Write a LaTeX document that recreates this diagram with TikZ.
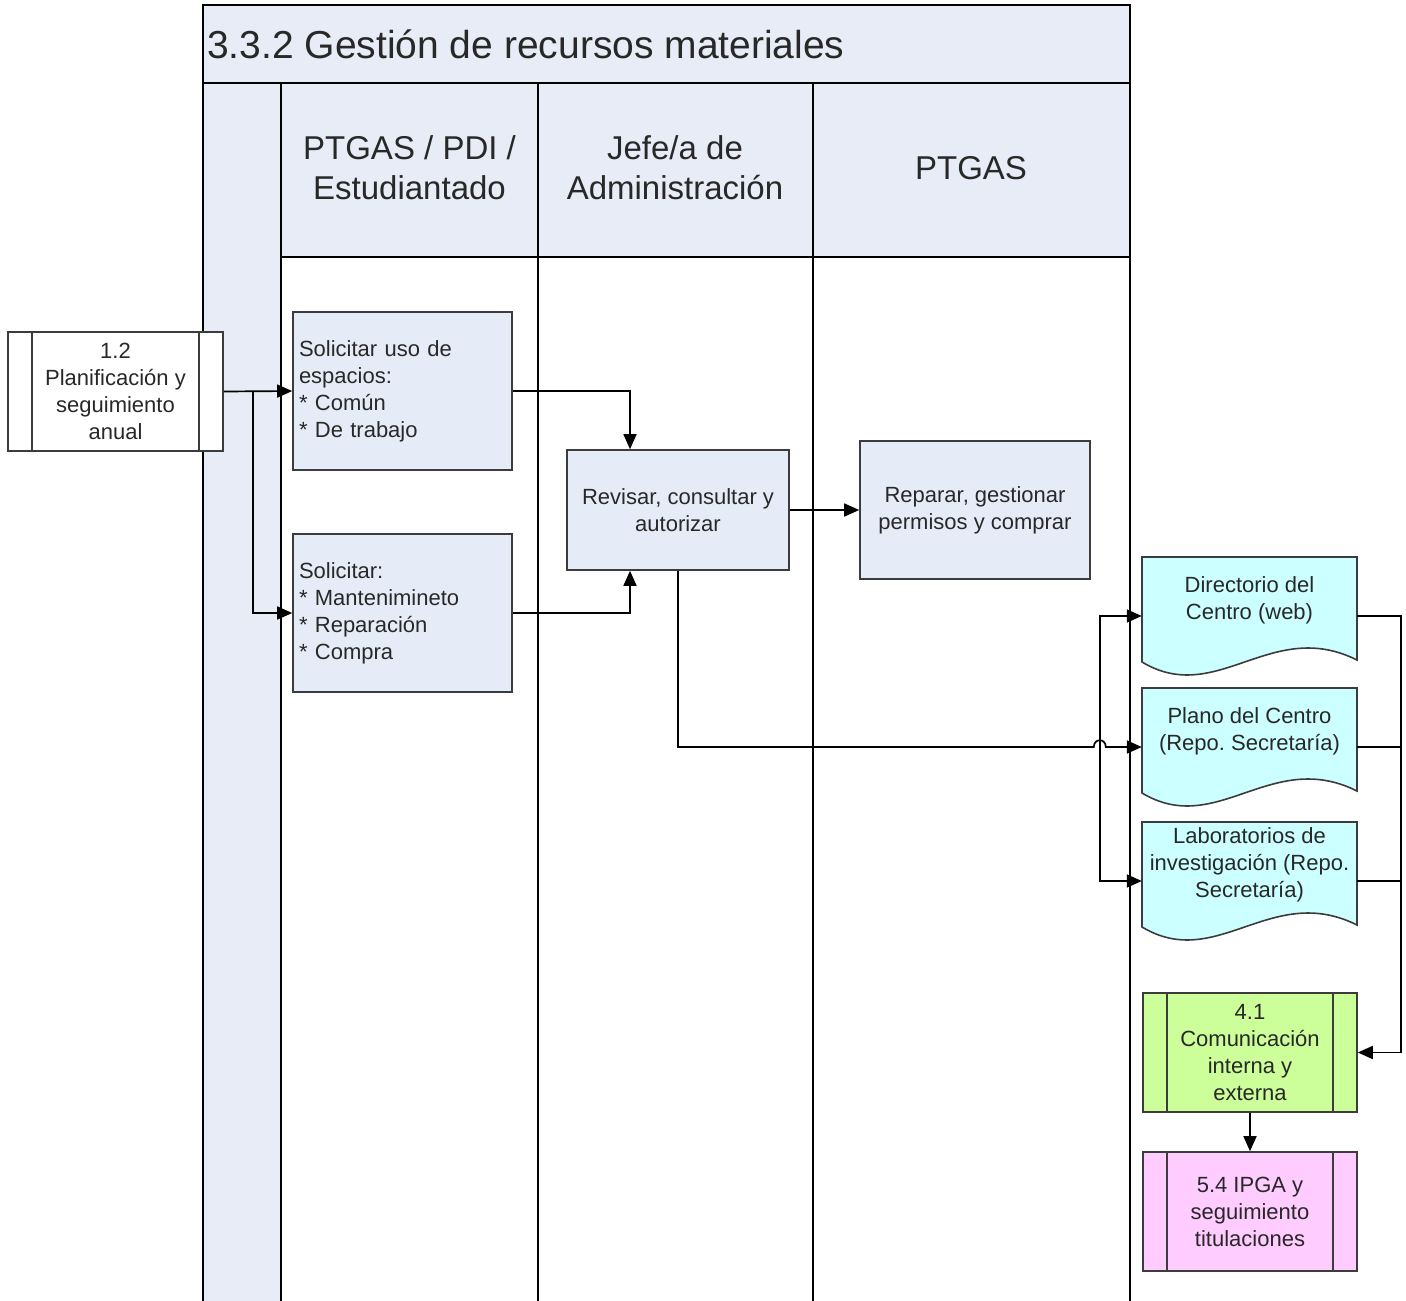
\documentclass[tikz,border=0pt]{standalone}
\usepackage{fontspec}
\setmainfont{Liberation Sans}
\usetikzlibrary{arrows.meta,calc,backgrounds}
\definecolor{lanefill}{RGB}{231,236,246}
\definecolor{boxfill}{RGB}{230,236,247}
\definecolor{docfill}{RGB}{204,255,255}
\definecolor{grnfill}{RGB}{204,255,153}
\definecolor{pnkfill}{RGB}{255,204,255}
\definecolor{edge}{RGB}{60,60,60}
\definecolor{txt}{RGB}{40,40,40}
\frenchspacing
\newcommand\docshape[1]{%
  \path[docsh] ($(#1.center)+(-107.5,-43)$) -- ($(#1.center)+(107.5,-43)$) -- ($(#1.center)+(107.5,60)$)
    .. controls ($(#1.center)+(21.5,17)$) and ($(#1.center)+(-32.5,107)$) .. ($(#1.center)+(-107.5,62)$) -- cycle;}
\begin{document}
\begin{tikzpicture}[x=1pt,y=-1pt,
  lane/.style={line width=1.8pt, draw=black},
  boxtext/.style={font=\fontsize{22}{27}\selectfont, text=txt},
  procbox/.style={boxtext, draw=edge, line width=1.6pt, fill=boxfill, align=center, inner sep=0pt},
  leftbox/.style={procbox, align=left, text width=207pt, inner xsep=6pt, minimum width=219pt, minimum height=158pt},
  predef/.style={procbox, minimum width=214pt, minimum height=119pt,
    path picture={\draw[draw=edge,line width=1.6pt]
      ($(path picture bounding box.north west)+(24,0)$) -- ($(path picture bounding box.south west)+(24,0)$)
      ($(path picture bounding box.north east)+(-24,0)$) -- ($(path picture bounding box.south east)+(-24,0)$);}},
  doctext/.style={boxtext, align=center, inner sep=0pt, minimum width=215pt},
  docsh/.style={draw=edge, line width=1.6pt, fill=docfill},
  hdr/.style={font=\fontsize{33}{40}\selectfont, text=txt, align=center, inner sep=0pt},
  conn/.style={line width=1.7pt, draw=black},
  arr/.style={conn, -{Triangle[length=15pt,width=13pt]}},
]
\useasboundingbox (0,0) rectangle (1406,1301);

% pool and lanes
\fill[lanefill] (203,5) rectangle (1130,257);
\fill[lanefill] (203,257) rectangle (281,1310);
\draw[lane] (203,1310) -- (203,5) -- (1130,5) -- (1130,1310);
\draw[lane] (203,83) -- (1130,83);
\draw[lane] (281,257) -- (1130,257);
\draw[lane] (281,83) -- (281,1310);
\draw[lane] (538,83) -- (538,1310);
\draw[lane] (813,83) -- (813,1310);

\node[anchor=west, font=\fontsize{39}{47}\selectfont, text=txt, inner sep=0pt] (title) at (207,44) {3.3.2 Gestión de recursos materiales};
\node[hdr] (h1) at (409.5,168) {PTGAS / PDI /\\Estudiantado};
\node[hdr] (h2) at (675,168) {Jefe/a de\\Administración};
\node[hdr] (h3) at (971,168) {PTGAS};

% nodes
\node[predef, fill=white, minimum width=215pt] (p12) at (115.5,391.5) {1.2\\Planificación y\\seguimiento\\anual};
\node[leftbox] (sol1) at (402.5,391) {Solicitar uso de\\espacios:\\{*} Común\\{*} De trabajo};
\node[leftbox] (sol2) at (402.5,613) {Solicitar:\\{*} Mantenimineto\\{*} Reparación\\{*} Compra};
\node[procbox, minimum width=222pt, minimum height=120pt] (rev) at (678,510) {Revisar, consultar y\\autorizar};
\node[procbox, minimum width=230pt, minimum height=138pt] (rep) at (975,510) {Reparar, gestionar\\permisos y comprar};
\node[doctext] (dir) at (1249.5,600) {Directorio del\\Centro (web)};
\node[doctext] (pla) at (1249.5,731) {Plano del Centro\\(Repo. Secretaría)};
\node[doctext] (lab) at (1249.5,865) {Laboratorios de\\investigación (Repo.\\Secretaría)};
\node[predef, fill=grnfill] (c41) at (1250,1052.5) {4.1\\Comunicación\\interna y\\externa};
\node[predef, fill=pnkfill] (c54) at (1250,1211.5) {5.4 IPGA y\\seguimiento\\titulaciones};

\begin{scope}[on background layer]
  \docshape{dir}
  \docshape{pla}
  \docshape{lab}
\end{scope}

% connectors
\coordinate (br1) at ($(p12.east)+(29,0)$);
\draw[arr] (p12.east) -- (sol1.west);
\draw[arr] (br1) |- (sol2.west);
\draw[arr] (sol1.east) -| ($(rev.north)+(-48,0)$);
\draw[arr] (sol2.east) -| ($(rev.south)+(-48,0)$);
\draw[arr] (rev.east) -- (rep.west);

\coordinate (jn) at ($(pla.west)+(-42,16)$);
\draw[arr] (rev.south) |- ($(jn)+(-6,0)$) .. controls +(0,-9) and +(0,-9) .. ($(jn)+(6,0)$) -- ($(pla.west)+(0,16)$);
\draw[arr] (jn) |- ($(dir.west)+(0,16)$);
\draw[arr] (jn) |- ($(lab.west)+(0,16)$);

\coordinate (rb) at ($(c41.east)+(43,0)$);
\draw[arr] ($(dir.east)+(0,16)$) -| (rb) -- (c41.east);
\draw[conn] ($(pla.east)+(0,16)$) -| (rb);
\draw[conn] ($(lab.east)+(0,16)$) -| (rb);
\draw[arr] (c41.south) -- (c54.north);
\end{tikzpicture}
\end{document}
